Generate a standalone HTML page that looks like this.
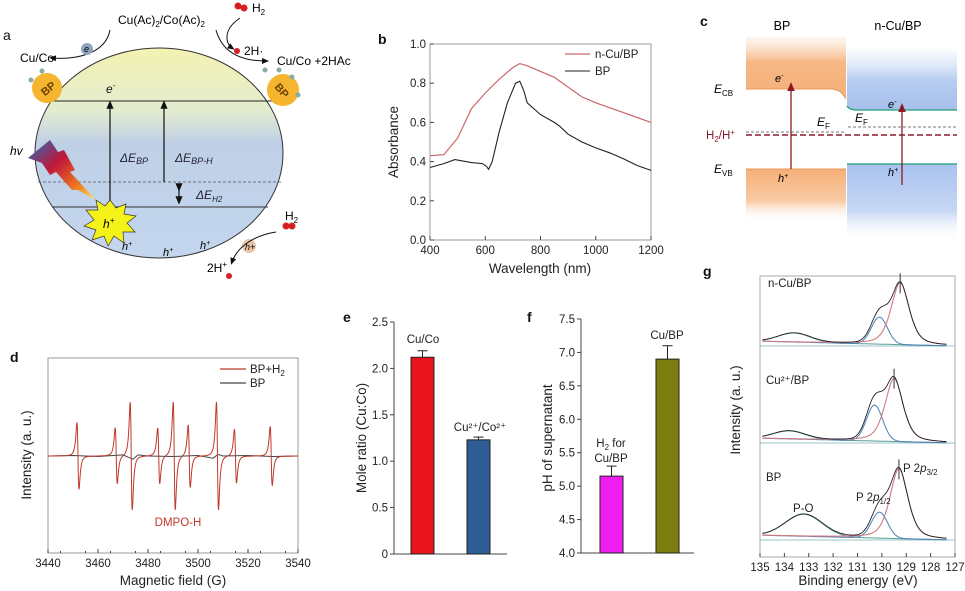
<!DOCTYPE html>
<html><head><meta charset="utf-8"><style>
html,body{margin:0;padding:0;background:#fff;}
svg{display:block;font-family:"Liberation Sans",Arial,sans-serif;}
.tk{font-size:11.5px;fill:#222;}
.ax{font-size:13.5px;fill:#222;}
.pl{font-size:14px;font-weight:bold;fill:#111;}
</style></head><body>
<svg id="fig" width="965" height="591" viewBox="0 0 965 591" xmlns="http://www.w3.org/2000/svg">
<defs>
<linearGradient id="ellG" x1="0" y1="0" x2="0" y2="1">
<stop offset="0" stop-color="#f3f2b0"/><stop offset="0.3" stop-color="#e4ecd0"/><stop offset="0.45" stop-color="#bfd0e6"/><stop offset="1" stop-color="#c3d6ee"/></linearGradient>
<linearGradient id="orT" x1="0" y1="0" x2="0" y2="1"><stop offset="0" stop-color="#fbe3cc" stop-opacity="0.3"/><stop offset="0.4" stop-color="#f7b784"/><stop offset="1" stop-color="#f5b07a"/></linearGradient>
<linearGradient id="orB" x1="0" y1="0" x2="0" y2="1"><stop offset="0" stop-color="#f5ae78"/><stop offset="0.6" stop-color="#f9cba4"/><stop offset="1" stop-color="#fff" stop-opacity="0"/></linearGradient>
<linearGradient id="blT" x1="0" y1="0" x2="0" y2="1"><stop offset="0" stop-color="#e6eefb" stop-opacity="0.3"/><stop offset="0.5" stop-color="#b7cdf0"/><stop offset="1" stop-color="#a6c0ec"/></linearGradient>
<linearGradient id="blB" x1="0" y1="0" x2="0" y2="1"><stop offset="0" stop-color="#a9c2ee"/><stop offset="0.6" stop-color="#c6d7f4"/><stop offset="1" stop-color="#fff" stop-opacity="0"/></linearGradient>
<linearGradient id="bolt" x1="0" y1="0" x2="1" y2="1"><stop offset="0" stop-color="#1f6fc0"/><stop offset="0.4" stop-color="#c0173a"/><stop offset="0.75" stop-color="#f07a20"/><stop offset="1" stop-color="#fbe95a"/></linearGradient>
<marker id="arK" markerWidth="8" markerHeight="8" refX="4" refY="4" orient="auto"><path d="M0,1 L7,4 L0,7 z" fill="#111"/></marker>
<marker id="arR" markerWidth="8" markerHeight="8" refX="4" refY="4" orient="auto"><path d="M0,1 L7,4 L0,7 z" fill="#8a1a22"/></marker>
</defs>

<!-- ================= Panel a ================= -->
<g>
<text class="pl" x="3" y="40" style="font-weight:normal">a</text>
<ellipse cx="159" cy="153" rx="124" ry="105" fill="url(#ellG)" stroke="#333" stroke-width="1"/>
<line x1="47" y1="101" x2="272" y2="101" stroke="#222" stroke-width="1"/>
<line x1="38" y1="182" x2="281" y2="182" stroke="#555" stroke-width="0.8" stroke-dasharray="3,2"/>
<line x1="52" y1="207" x2="268" y2="207" stroke="#333" stroke-width="0.9"/>
<line x1="110" y1="207" x2="110" y2="104" stroke="#111" stroke-width="1.2" marker-end="url(#arK)"/>
<line x1="164" y1="182" x2="164" y2="104" stroke="#111" stroke-width="1.2" marker-end="url(#arK)"/>
<line x1="179" y1="188" x2="179" y2="201" stroke="#111" stroke-width="1.2" marker-start="url(#arK)" marker-end="url(#arK)"/>
<text x="120" y="162" font-size="12" font-style="italic" fill="#223">ΔE<tspan font-size="9" dy="2">BP</tspan></text>
<text x="175" y="162" font-size="12" font-style="italic" fill="#223">ΔE<tspan font-size="9" dy="2">BP-H</tspan></text>
<text x="196" y="199" font-size="12" font-style="italic" fill="#223">ΔE<tspan font-size="8" dy="3">H2</tspan></text>
<text x="106" y="93" font-size="12" font-style="italic" fill="#111">e<tspan font-size="8" dy="-5">-</tspan></text>
<polygon points="28,158 50,140 58,152 64,150 75,170 70,172 82,185 96,200 78,190 72,190 56,172 50,175 42,163" fill="url(#bolt)"/>
<text x="10" y="155" font-size="12" font-style="italic">hv</text>
<polygon points="110,200 116,208 126,204 124,214 136,216 127,223 135,232 123,232 124,243 114,236 108,246 104,236 92,240 96,230 84,226 94,220 86,210 98,210 96,200 105,206" fill="#f5f21a" stroke="#333" stroke-width="0.7"/>
<text x="103" y="228" font-size="12" font-style="italic">h<tspan font-size="8" dy="-5">+</tspan></text>
<text x="122" y="250" font-size="11" font-style="italic">h<tspan font-size="7" dy="-4">+</tspan></text>
<text x="163" y="256" font-size="11" font-style="italic">h<tspan font-size="7" dy="-4">+</tspan></text>
<text x="200" y="249" font-size="11" font-style="italic">h<tspan font-size="7" dy="-4">+</tspan></text>
<circle cx="47" cy="88" r="15" fill="#f5b52e"/>
<text x="40" y="93" font-size="11" font-weight="bold" fill="#6a4100" transform="rotate(-40 47 88)">BP</text>
<circle cx="283" cy="90" r="16" fill="#f5b52e"/>
<text x="275" y="95" font-size="11" font-weight="bold" fill="#6a4100" transform="rotate(50 283 90)">BP</text>
<circle cx="42" cy="71" r="2.5" fill="#8aa"/><circle cx="31" cy="80" r="2.5" fill="#8aa"/><circle cx="265" cy="70" r="2.5" fill="#8aa"/><circle cx="279" cy="70" r="2.5" fill="#8aa"/><circle cx="292" cy="77" r="2.5" fill="#8aa"/><circle cx="298" cy="95" r="2.5" fill="#8aa"/>
<text x="118" y="24" font-size="12">Cu(Ac)<tspan font-size="8" dy="3">2</tspan><tspan dy="-3">/Co(Ac)</tspan><tspan font-size="8" dy="3">2</tspan></text>
<path d="M110,30 C106,52 80,60 52,58" fill="none" stroke="#111" stroke-width="1" marker-end="url(#arK)"/>
<text x="20" y="62" font-size="12">Cu/Co</text>
<circle cx="87" cy="49" r="6" fill="#8da3c0"/>
<text x="84" y="52" font-size="9" font-style="italic">e</text>
<circle cx="238" cy="6" r="3.5" fill="#d42020"/><circle cx="244" cy="8" r="3.5" fill="#d42020"/>
<text x="252" y="12" font-size="12">H<tspan font-size="8" dy="3">2</tspan></text>
<path d="M240,18 C222,30 226,44 232,48" fill="none" stroke="#111" stroke-width="1" marker-end="url(#arK)"/>
<circle cx="237" cy="51" r="3" fill="#d42020"/>
<text x="244" y="55" font-size="12">2H·</text>
<path d="M216,30 C222,52 240,61 266,61" fill="none" stroke="#111" stroke-width="1" marker-end="url(#arK)"/>
<text x="277" y="65" font-size="12">Cu/Co +2HAc</text>
<circle cx="286" cy="226" r="3.5" fill="#d42020"/><circle cx="292" cy="226" r="3.5" fill="#d42020"/>
<text x="285" y="220" font-size="12">H<tspan font-size="8" dy="3">2</tspan></text>
<circle cx="249" cy="246" r="7" fill="#e9c6a8"/>
<text x="245" y="250" font-size="9" font-style="italic">h+</text>
<path d="M276,232 C250,236 236,250 232,262" fill="none" stroke="#111" stroke-width="1" marker-end="url(#arK)"/>
<text x="207" y="272" font-size="12">2H<tspan font-size="8" dy="-5">+</tspan></text>
<circle cx="229" cy="276" r="3" fill="#d42020"/>
</g>

<!-- ================= Panel c ================= -->
<g>
<text class="pl" x="700" y="26">c</text>
<text x="782" y="30" font-size="12.5" text-anchor="middle">BP</text>
<text x="898" y="30" font-size="12.5" text-anchor="middle">n-Cu/BP</text>
<path d="M746,37 H846 V99 C842,92 838,89 830,89 H746 Z" fill="url(#orT)"/>
<path d="M746,169 H846 V222 H746 Z" fill="url(#orB)"/>
<path d="M847,50 H957 V110 H855 C850,110 847,108 847,104 Z" fill="url(#blT)"/>
<path d="M847,164 H957 V242 H847 Z" fill="url(#blB)"/>
<path d="M746,89 H830 C838,89 842,92 846,99" fill="none" stroke="#e8975a" stroke-width="1"/>
<line x1="746" y1="169" x2="846" y2="169" stroke="#e8975a" stroke-width="1"/>
<path d="M847,106 C849,109 852,110 858,110 H957" fill="none" stroke="#1fa07a" stroke-width="1.3"/>
<line x1="847" y1="164" x2="957" y2="164" stroke="#1fa07a" stroke-width="1.3"/>
<line x1="746" y1="132" x2="846" y2="132" stroke="#777" stroke-width="1" stroke-dasharray="3,2"/>
<line x1="848" y1="127" x2="957" y2="127" stroke="#777" stroke-width="1" stroke-dasharray="3,2"/>
<line x1="746" y1="135" x2="957" y2="135" stroke="#8a1a30" stroke-width="1.5" stroke-dasharray="6,3"/>
<line x1="791" y1="169" x2="791" y2="86" stroke="#8a1a22" stroke-width="1.3" marker-end="url(#arR)"/>
<line x1="902" y1="185" x2="902" y2="107" stroke="#8a1a22" stroke-width="1.3" marker-end="url(#arR)"/>
<text x="714" y="93" font-size="12" font-style="italic">E<tspan font-size="8" dy="3" font-style="normal">CB</tspan></text>
<text x="714" y="173" font-size="12" font-style="italic">E<tspan font-size="8" dy="3" font-style="normal">VB</tspan></text>
<text x="706" y="139" font-size="11.5" fill="#8a1a30">H<tspan font-size="8" dy="3">2</tspan><tspan dy="-3">/H</tspan><tspan font-size="8" dy="-4">+</tspan></text>
<text x="817" y="126" font-size="12" font-style="italic">E<tspan font-size="8" dy="3" font-style="normal">F</tspan></text>
<text x="855" y="122" font-size="12" font-style="italic">E<tspan font-size="8" dy="3" font-style="normal">F</tspan></text>
<text x="775" y="82" font-size="11" font-style="italic">e<tspan font-size="7" dy="-4">-</tspan></text>
<text x="888" y="108" font-size="11" font-style="italic">e<tspan font-size="7" dy="-4">-</tspan></text>
<text x="778" y="182" font-size="11" font-style="italic">h<tspan font-size="7" dy="-4">+</tspan></text>
<text x="888" y="176" font-size="11" font-style="italic">h<tspan font-size="7" dy="-4">+</tspan></text>
</g>

<g id="charts"></g>
</svg>
<script>
// ---------- data ----------
const absWavelengths=[400,450,500,550,600,650,700,725,750,800,850,900,950,1000,1050,1100,1150,1200];
const absNCuBP=[0.43,0.435,0.52,0.67,0.75,0.82,0.88,0.90,0.89,0.86,0.83,0.78,0.73,0.70,0.675,0.65,0.625,0.60];
const absBPWave=[400,450,490,550,590,605,612,625,650,680,710,725,740,752,800,850,870,900,950,1000,1050,1100,1150,1200];
const absBP=[0.37,0.39,0.41,0.395,0.39,0.375,0.36,0.40,0.55,0.70,0.80,0.81,0.76,0.70,0.64,0.60,0.58,0.54,0.50,0.47,0.445,0.415,0.38,0.355];
const absXTicks=[400,600,800,1000,1200];
const absYTicks=[0.0,0.2,0.4,0.6,0.8,1.0];

const eprPeakFields=[3452,3467.3,3473.3,3484.3,3490.5,3496.5,3507.8,3515,3529.3];
const eprPeakAmps=[0.62,0.52,1.0,0.52,1.0,0.58,1.0,0.5,0.55];
const eprBPFields=[3440,3450,3460,3470,3474,3476,3480,3490,3500,3506,3508,3510,3520,3530,3540];
const eprBPValues=[0.0,0.01,-0.01,0.02,-0.06,0.02,0.0,-0.01,0.01,-0.04,0.03,0.0,0.01,-0.01,0.0];
const eprXTicks=[3440,3460,3480,3500,3520,3540];

const moleCategories=["Cu/Co","Cu²⁺/Co²⁺"];
const moleValues=[2.12,1.23];
const moleErrors=[0.07,0.03];
const moleYTicks=[0,0.5,1.0,1.5,2.0,2.5];

const phCategories=["H2 for Cu/BP","Cu/BP"];
const phValues=[5.15,6.90];
const phErrors=[0.15,0.20];
const phYTicks=[4.0,4.5,5.0,5.5,6.0,6.5,7.0,7.5];

const xpsSamples=["n-Cu/BP","Cu2+/BP","BP"];
const xpsMainPos=[129.25,129.5,129.3];
const xpsMainAmp=[62,63,70];
const xps12Pos=[130.1,130.3,130.1];
const xps12Amp=[27,36,26];
const xpsPOPos=[133.6,133.8,133.2];
const xpsPOAmp=[9,8,22];
const xpsXTicks=[135,134,133,132,131,130,129,128,127];

// ---------- helpers ----------
const NS="http://www.w3.org/2000/svg";
const root=document.getElementById('charts');
function mk(tag,parent){const e=document.createElementNS(NS,tag);(parent||root).appendChild(e);return e;}
function line(p,x1,y1,x2,y2,stroke,w){const l=mk('line',p);l.setAttribute('x1',x1);l.setAttribute('y1',y1);l.setAttribute('x2',x2);l.setAttribute('y2',y2);l.setAttribute('stroke',stroke);l.setAttribute('stroke-width',w);return l;}
function txt(p,x,y,s,cls,anchor){const t=mk('text',p);t.setAttribute('x',x);t.setAttribute('y',y);if(cls)t.setAttribute('class',cls);if(anchor)t.setAttribute('text-anchor',anchor);t.textContent=s;return t;}
function path(p,pts,stroke,w){const e=mk('path',p);e.setAttribute('d','M'+pts.map(q=>q[0].toFixed(1)+','+q[1].toFixed(1)).join(' L'));e.setAttribute('fill','none');e.setAttribute('stroke',stroke);e.setAttribute('stroke-width',w);return e;}
function rect(p,x,y,w,h,fill,stroke){const r=mk('rect',p);r.setAttribute('x',x);r.setAttribute('y',y);r.setAttribute('width',w);r.setAttribute('height',h);r.setAttribute('fill',fill);if(stroke){r.setAttribute('stroke',stroke);r.setAttribute('stroke-width',1);}return r;}

// ---------- panel b ----------
(function(){
const g=mk('g');
const X0=430,X1=651,Y0=240,Y1=44;
const xb=v=>X0+(v-400)/800*(X1-X0), yb=v=>Y0-v*(Y0-Y1);
let t=txt(g,378,44,'b','pl');
let b=rect(g,X0,Y1,X1-X0,Y0-Y1,'none','#999');
absXTicks.forEach(v=>{line(g,xb(v),Y0,xb(v),Y0-4,'#444',1);const l=txt(g,xb(v),Y0+14,v,'tk','middle');});
absYTicks.forEach(v=>{line(g,X0,yb(v),X0+4,yb(v),'#444',1);const l=txt(g,X0-4,yb(v)+4,v.toFixed(1),'tk','end');});
t=txt(g,540,273,'Wavelength (nm)','ax','middle');
t=txt(g,0,0,'Absorbance','ax','middle');t.setAttribute('transform','translate(398,142) rotate(-90)');
let s=path(g,absWavelengths.map((w,i)=>[xb(w),yb(absNCuBP[i])]),'#c9676a',1.2);
s=path(g,absBPWave.map((w,i)=>[xb(w),yb(absBP[i])]),'#222',1.1);
line(g,565,54,590,54,'#c9676a',1.2);t=txt(g,595,58,'n-Cu/BP','tk');t.setAttribute('font-size','12.5');
line(g,565,71,590,71,'#222',1.1);t=txt(g,595,75,'BP','tk');t.setAttribute('font-size','12.5');
})();

// ---------- panel d ----------
(function(){
const g=mk('g');
const X0=48,X1=298,YT=358,YB=553,BASE=456,AMP=54;
const xd=v=>X0+(v-3440)/100*(X1-X0), yd=v=>BASE-v*AMP;
let t=txt(g,10,362,'d','pl');
let b=rect(g,X0,YT,X1-X0,YB-YT,'none','#999');
eprXTicks.forEach(v=>{line(g,xd(v),YB,xd(v),YB-4,'#444',1);const l=txt(g,xd(v),YB+14,v,'tk','middle');});
for(let v=3445;v<3540;v+=10)line(g,xd(v),YB,xd(v),YB-2,'#444',1);
t=txt(g,173,585,'Magnetic field (G)','ax','middle');
t=txt(g,0,0,'Intensity (a. u.)','ax','middle');t.setAttribute('transform','translate(31,455) rotate(-90)');
let s=path(g,eprBPFields.map((f,i)=>[xd(f),yd(eprBPValues[i])]),'#444',1);
const pts=[];const w=0.7;
for(let f=3440;f<=3540;f+=0.1){let v=0;eprPeakFields.forEach((c,i)=>{const u=(f-c)/w;v+=-eprPeakAmps[i]*u/Math.pow(1+u*u,2)/0.325;});pts.push([xd(f),yd(v)]);}
s=path(g,pts,'#c0392b',1);
line(g,220,369,246,369,'#c0392b',1.2);t=txt(g,250,373,'BP+H','tk');t.setAttribute('font-size','12');
const sub=mk('tspan',t);sub.setAttribute('font-size','8');sub.setAttribute('dy','3');sub.textContent='2';
line(g,220,383,246,383,'#444',1.2);t=txt(g,250,387,'BP','tk');t.setAttribute('font-size','12');
t=txt(g,178,526,'DMPO-H','tk','middle');t.style.fill='#c0392b';t.setAttribute('font-size','12.5');
})();

// ---------- panel e ----------
(function(){
const g=mk('g');
const X0=394,X1=507,Y0=554,Y1=322;
const ye=v=>Y0-v/2.5*(Y0-Y1);
const bx=[411,467],bw=23,cols=['#e8141c','#2e5d95'];
let t=txt(g,343,322,'e','pl');
line(g,X0,Y0,X0,Y1,'#444',1);line(g,X0,Y0,X1,Y0,'#444',1);
moleYTicks.forEach(v=>{line(g,X0-4,ye(v),X0,ye(v),'#444',1);const l=txt(g,X0-6,ye(v)+4,v===0?'0':v.toFixed(1),'tk','end');});
t=txt(g,0,0,'Mole ratio (Cu:Co)','ax','middle');t.setAttribute('transform','translate(366,438) rotate(-90)');
moleValues.forEach((v,i)=>{
 const r=rect(g,bx[i],ye(v),bw,Y0-ye(v),cols[i],'#222');
 const c=bx[i]+bw/2;line(g,c,ye(v),c,ye(v+moleErrors[i]),'#222',1);const cap=line(g,c-5,ye(v+moleErrors[i]),c+5,ye(v+moleErrors[i]),'#222',1);
});
t=txt(g,423,343,'Cu/Co','tk','middle');t.setAttribute('font-size','12');
t=txt(g,480,431,'Cu²⁺/Co²⁺','tk','middle');t.setAttribute('font-size','12');
})();

// ---------- panel f ----------
(function(){
const g=mk('g');
const X0=581,X1=694,Y0=553,Y1=319;
const yf=v=>Y0-(v-4)/3.5*(Y0-Y1);
const bx=[600,656],bw=23,cols=['#f01df0','#7d7d10'];
let t=txt(g,527,322,'f','pl');
line(g,X0,Y0,X0,Y1,'#444',1);line(g,X0,Y0,X1,Y0,'#444',1);
phYTicks.forEach(v=>{line(g,X0-4,yf(v),X0,yf(v),'#444',1);const l=txt(g,X0-6,yf(v)+4,v.toFixed(1),'tk','end');});
t=txt(g,0,0,'pH of supernatant','ax','middle');t.setAttribute('transform','translate(552,438) rotate(-90)');
phValues.forEach((v,i)=>{
 const r=rect(g,bx[i],yf(v),bw,Y0-yf(v),cols[i],'#222');
 const c=bx[i]+bw/2;line(g,c,yf(v),c,yf(v+phErrors[i]),'#222',1);const cap=line(g,c-5,yf(v+phErrors[i]),c+5,yf(v+phErrors[i]),'#222',1);
});
t=txt(g,611,447,'H','tk','middle');t.setAttribute('font-size','12');
let sp=mk('tspan',t);sp.setAttribute('font-size','8');sp.setAttribute('dy','3');sp.textContent='2';sp=mk('tspan',t);sp.setAttribute('dy','-3');sp.textContent=' for';
t=txt(g,611,462,'Cu/BP','tk','middle');t.setAttribute('font-size','12');
t=txt(g,667,339,'Cu/BP','tk','middle');t.setAttribute('font-size','12');
})();

// ---------- panel g ----------
(function(){
const g=mk('g');
const X0=760,X1=955,YT=276,YB=557;
const xg=v=>X0+(135-v)/8*(X1-X0);
const bases=[346,443,540];
let t=txt(g,703,276,'g','pl');
let b=rect(g,X0,YT,X1-X0,YB-YT,'none','#aaa');
xpsXTicks.forEach(v=>{line(g,xg(v),YB,xg(v),YB-4,'#444',1);const l=txt(g,xg(v),YB+14,v,'tk','middle');});
t=txt(g,858,585,'Binding energy (eV)','ax','middle');
t=txt(g,0,0,'Intensity (a. u.)','ax','middle');t.setAttribute('transform','translate(740,410) rotate(-90)');
const gauss=(e,c,a,s)=>a*Math.exp(-0.5*Math.pow((e-c)/s,2));
const lor=(e,c,a,s)=>a/(1+Math.pow((e-c)/s,2));
xpsSamples.forEach((name,k)=>{
 const B=bases[k];const m=[],p=[],o=[],sum=[];
 for(let e=134.9;e>=127.3;e-=0.05){
   const bg=(e-127)*0.6;
   const vm=0.5*gauss(e,xpsMainPos[k],xpsMainAmp[k],0.38)+0.5*lor(e,xpsMainPos[k],xpsMainAmp[k],0.42);
   const vp=gauss(e,xps12Pos[k],xps12Amp[k],0.33);
   const vo=gauss(e,xpsPOPos[k],xpsPOAmp[k],k==2?0.75:0.65);
   m.push([xg(e),B-bg-vm]);p.push([xg(e),B-bg-vp]);o.push([xg(e),B-bg-vo]);
   sum.push([xg(e),B-bg-vm-vp-vo]);
 }
 line(g,X0,B,X1,B,'#7ab0b0',0.8);
 let s=path(g,o,'#5aa090',1);
 s=path(g,p,'#4a7fb8',1);
 s=path(g,m,'#d07a80',1.1);
 s=path(g,sum,'#222',0.9);
 const px=xg(xpsMainPos[k]);const top=B-(xpsMainPos[k]-127)*0.6-xpsMainAmp[k]-xps12Amp[k]*0.05;line(g,px,top-8,px,top+12,'#333',1);
});
t=txt(g,768,287,'n-Cu/BP','tk');t.setAttribute('font-size','12.5');
t=txt(g,766,384,'Cu²⁺/BP','tk');t.setAttribute('font-size','12.5');
t=txt(g,766,481,'BP','tk');t.setAttribute('font-size','12.5');
t=txt(g,793,512,'P-O','tk');t.setAttribute('font-size','12.5');
t=txt(g,856,501,'P 2','tk');t.setAttribute('font-size','12.5');
let sp=mk('tspan',t);sp.setAttribute('font-style','italic');sp.textContent='p';sp=mk('tspan',t);sp.setAttribute('font-size','8');sp.setAttribute('dy','3');sp.textContent='1/2';
t=txt(g,903,472,'P 2','tk');t.setAttribute('font-size','12.5');
sp=mk('tspan',t);sp.setAttribute('font-style','italic');sp.textContent='p';sp=mk('tspan',t);sp.setAttribute('font-size','8');sp.setAttribute('dy','3');sp.textContent='3/2';
})();
</script>
</body></html>
